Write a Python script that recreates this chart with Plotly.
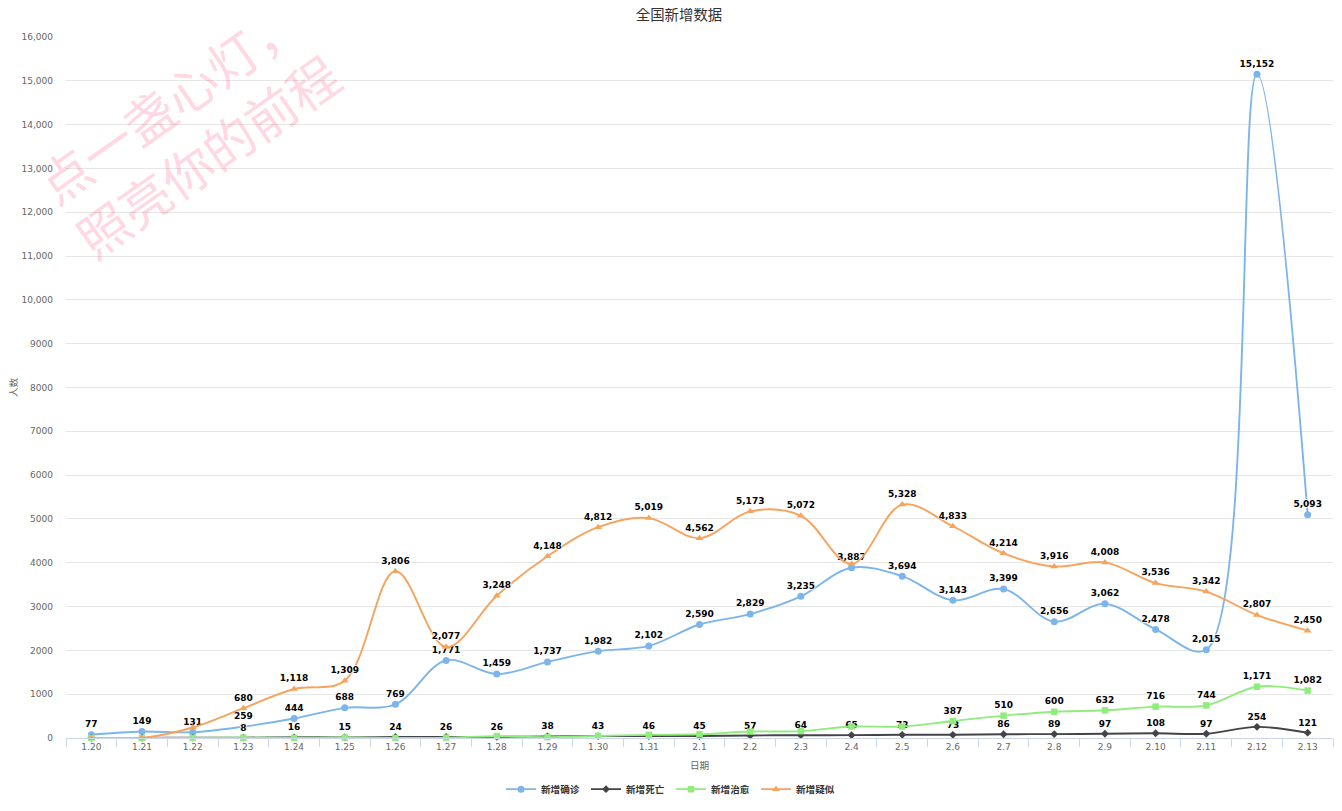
import plotly.graph_objects as go

dates = ["1.20", "1.21", "1.22", "1.23", "1.24", "1.25", "1.26", "1.27", "1.28", "1.29",
         "1.30", "1.31", "2.1", "2.2", "2.3", "2.4", "2.5", "2.6", "2.7", "2.8",
         "2.9", "2.10", "2.11", "2.12", "2.13"]

confirmed = [77, 149, 131, 259, 444, 688, 769, 1771, 1459, 1737,
             1982, 2102, 2590, 2829, 3235, 3887, 3694, 3143, 3399, 2656,
             3062, 2478, 2015, 15152, 5093]
deaths = [3, 3, 8, 8, 16, 15, 24, 26, 26, 38,
          43, 46, 45, 57, 64, 65, 73, 73, 86, 89,
          97, 108, 97, 254, 121]
cured = [0, 0, 3, 6, 4, 11, 2, 9, 43, 21,
         47, 72, 85, 147, 157, 262, 261, 387, 510, 600,
         632, 716, 744, 1171, 1082]
suspected = [0, 0, 240, 680, 1118, 1309, 3806, 2077, 3248, 4148,
             4812, 5019, 4562, 5173, 5072, 3971, 5328, 4833, 4214, 3916,
             4008, 3536, 3342, 2807, 2450]

# labels that the original chart hides because they overlap
confirmed_hidden = []
deaths_hidden = [0, 1, 2]
cured_hidden = list(range(17))
suspected_hidden = [0, 1, 2, 15]

y_ticks = [0, 1000, 2000, 3000, 4000, 5000, 6000, 7000, 8000, 9000,
           10000, 11000, 12000, 13000, 14000, 15000, 16000]
y_ticktext = ["0", "1000", "2000", "3000", "4000", "5000", "6000", "7000", "8000", "9000",
              "10,000", "11,000", "12,000", "13,000", "14,000", "15,000", "16,000"]


def labels(values, hidden):
    return ["" if i in hidden else f"{v:,}" for i, v in enumerate(values)]


FONT = "DejaVu Sans, Noto Sans CJK SC, sans-serif"
OUTLINE = "1px 0 1px #fff, -1px 0 1px #fff, 0 1px 1px #fff, 0 -1px 1px #fff"
x = list(range(len(dates)))

series = [
    ("新增确诊", confirmed, confirmed_hidden, "#7cb5ec", "circle", 7),
    ("新增死亡", deaths, deaths_hidden, "#434348", "diamond", 6),
    ("新增治愈", cured, cured_hidden, "#90ed7d", "square", 6.5),
    ("新增疑似", suspected, suspected_hidden, "#f7a35c", "triangle-up", 7),
]

fig = go.Figure()
for name, vals, hidden, color, symbol, size in series:
    fig.add_trace(go.Scatter(
        x=x, y=vals, name=name, mode="lines+markers+text",
        line=dict(color=color, width=1.9, shape="spline", smoothing=1.0),
        marker=dict(color=color, symbol=symbol, size=size),
        text=labels(vals, hidden), textposition="top center",
        textfont=dict(family=FONT, size=9, color="#000", weight="bold", shadow=OUTLINE),
        cliponaxis=False,
    ))

# the page adds an 8px body margin, so margins are offset by it
fig.update_layout(
    width=1342, height=811,
    paper_bgcolor="white", plot_bgcolor="white",
    margin=dict(l=58, r=17, t=29, b=81),
    font=dict(family=FONT, color="#666666", size=9),
    title=dict(text="全国新增数据", x=0.5, xanchor="center", xref="container",
               y=0.991, yanchor="middle", yref="container",
               font=dict(size=14.4, color="#333333")),
    legend=dict(orientation="h", x=0.4775, xanchor="center", y=-0.073, yanchor="middle",
                font=dict(size=9.6, color="#333333", weight="bold"),
                itemwidth=30, entrywidth=40),
    showlegend=True,
)

fig.update_xaxes(
    range=[-0.5, len(dates) - 0.5], tickvals=x, ticktext=dates, ticks="",
    showline=True, linecolor="#ccd6eb", linewidth=1, showgrid=False, zeroline=False,
    tickfont=dict(size=9, color="#666666"), automargin=False,
    minor=dict(tickvals=[i - 0.5 for i in range(len(dates) + 1)], ticks="outside",
               ticklen=8, tickcolor="#ccd6eb", showgrid=False),
    title=dict(text="日期", font=dict(size=9.6, color="#666666"), standoff=11),
)
fig.update_yaxes(
    range=[0, 16000], tickvals=y_ticks, ticktext=y_ticktext,
    showgrid=True, gridcolor="#e6e6e6", gridwidth=1, zeroline=False, showline=False,
    tickfont=dict(size=9, color="#666666"), ticklabelstandoff=12, automargin=False,
    title=dict(text="人数", font=dict(size=9.6, color="#666666"), standoff=6),
)

# watermark
fig.add_annotation(
    text="点一盏心灯，<br>照亮你的前程", xref="paper", yref="paper",
    x=0.096, y=0.87, xanchor="center", yanchor="middle", textangle=-35,
    showarrow=False, font=dict(family="Noto Sans CJK SC", size=51, color="rgba(255,40,90,0.18)"),
)

fig.write_html("out.html")
